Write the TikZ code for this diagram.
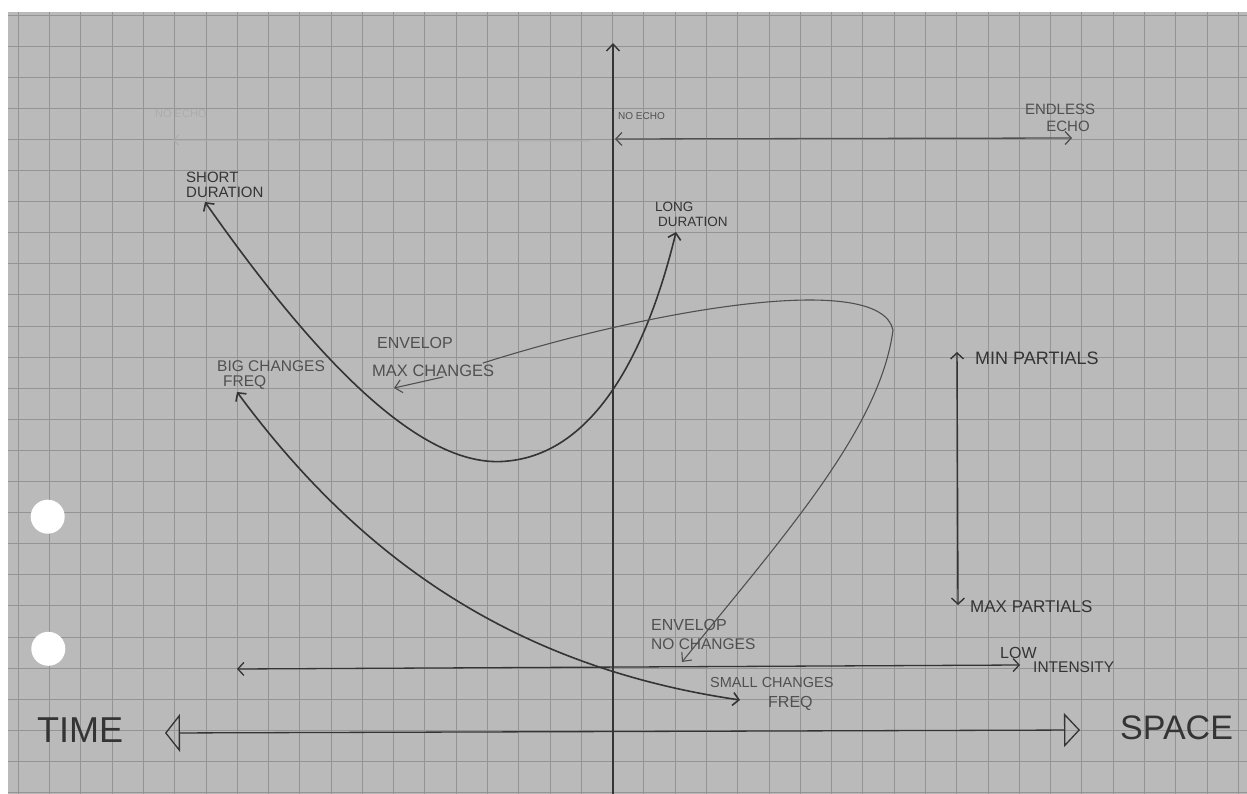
\documentclass[tikz,border=0pt]{standalone}
\usepackage{fontspec}
\setmainfont{Liberation Sans}
\usetikzlibrary{arrows.meta}
\definecolor{paper}{RGB}{186,186,186}
\definecolor{gridc}{RGB}{148,148,148}
\definecolor{pencil}{RGB}{52,52,52}
\definecolor{softpen}{RGB}{80,80,80}
\definecolor{faint}{RGB}{172,172,172}
\begin{document}
\begin{tikzpicture}[x=1pt,y=-1pt,
  pen/.style={draw=pencil,line width=1.4pt,line cap=round},
  thinpen/.style={draw=softpen,line width=1.1pt,line cap=round},
  barbs/.style={{Straight Barb[length=6pt,width=13pt]}-{Straight Barb[length=6pt,width=13pt]}},
  barbend/.style={-{Straight Barb[length=7pt,width=13pt]}},
  tri/.style={{Triangle[open,length=15pt,width=38pt]}-{Triangle[open,length=16pt,width=34pt]}},
  lbl/.style={text=pencil,inner sep=0pt,anchor=west},
  soft/.style={text=softpen,inner sep=0pt,anchor=west}
]
\useasboundingbox (0,0) rectangle (1247,794);
\fill[white] (0,0) rectangle (1247,794);
\fill[paper] (8,12) rectangle (1247,794);
% squared paper
\foreach \i in {0,...,39} \draw[gridc,line width=0.9pt] ({18.3+31.28*\i},12) -- ({18.3+31.28*\i},794);
\foreach \j in {0,...,25} \draw[gridc,line width=0.9pt] (8,{15+31.1*\j}) -- (1247,{15+31.1*\j});
% punch holes
\fill[white] (47.7,516.7) circle (17pt);
\fill[white] (48.3,648.8) circle (17pt);

% faint erased label
\node[text=faint,inner sep=0pt,anchor=west,font=\fontsize{11}{13}\selectfont] (ghost) at (155,114) {NO ECHO};
\coordinate (gl) at (173,140);
\coordinate (gr) at (590,141);
\draw[draw=faint,line width=1pt,-{Straight Barb[length=5pt,width=10pt]}] (gr) -- (gl);

% vertical axis
\coordinate (vtop) at (613,43);
\coordinate (vbot) at (613,794);
\draw[pen,barbend] (vbot) -- (vtop);

% echo line
\coordinate (ne) at (615,139);
\coordinate (ee) at (1072,138);
\draw[thinpen,line width=1.3pt,barbs] (ne) -- (ee);
\node[soft,font=\fontsize{10}{12}\selectfont] (noecho) at (618,116) {NO ECHO};
\node[soft,font=\fontsize{15}{17}\selectfont,anchor=center] (endless) at (1060,109) {ENDLESS};
\node[soft,font=\fontsize{15}{17}\selectfont,anchor=center] (echo) at (1068,126) {ECHO};

% duration curve
\coordinate (sd) at (205,202);
\coordinate (dmin) at (508,461);
\coordinate (ld) at (676,232);
\draw[pen,line width=1.6pt,barbs] (sd) .. controls (330,380) and (430,470) .. (dmin) .. controls (600,452) and (650,340) .. (ld);
\node[lbl,font=\fontsize{15}{17}\selectfont] (short) at (186,177.5) {SHORT};
\node[lbl,font=\fontsize{15}{17}\selectfont] (sdur) at (186,192.5) {DURATION};
\node[lbl,font=\fontsize{13.5}{15}\selectfont] (long) at (655,207) {LONG};
\node[lbl,font=\fontsize{13.5}{15}\selectfont] (ldur) at (658,222) {DURATION};

% envelope loop
\coordinate (mxa) at (394,388);
\coordinate (mxb) at (443,377);
\coordinate (lp) at (483,363);
\coordinate (rt) at (893,330);
\coordinate (nca) at (682,662);
\draw[thinpen,barbend] (mxb) -- (mxa);
\draw[thinpen,barbend] (lp) .. controls (650,310) and (880,270) .. (rt) .. controls (880,430) and (780,540) .. (nca);
\node[soft,font=\fontsize{16}{18}\selectfont] (env1) at (377,343) {ENVELOP};
\node[soft,font=\fontsize{16.5}{18}\selectfont] (maxch) at (372,371) {MAX CHANGES};
\node[soft,font=\fontsize{16}{18}\selectfont] (env2) at (651,625) {ENVELOP};
\node[soft,font=\fontsize{15.5}{18}\selectfont] (noch) at (651,644) {NO CHANGES};

% frequency curve
\coordinate (bf) at (237,392);
\coordinate (sf) at (740,700);
\draw[pen,line width=1.6pt,barbs] (bf) .. controls (350,545) and (500,665) .. (sf);
\node[soft,font=\fontsize{15.5}{18}\selectfont] (big) at (217,366) {BIG CHANGES};
\node[soft,font=\fontsize{15.5}{18}\selectfont] (bfreq) at (223,383) {FREQ};
\node[soft,font=\fontsize{14.5}{17}\selectfont] (small) at (710,683) {SMALL CHANGES};
\node[soft,font=\fontsize{16}{18}\selectfont] (sfreq) at (768,703) {FREQ};

% partials
\coordinate (pmin) at (957,352);
\coordinate (pmax) at (958,605);
\draw[pen,barbs] (pmin) -- (pmax);
\node[lbl,font=\fontsize{18}{20}\selectfont] (minp) at (975,358) {MIN PARTIALS};
\node[lbl,font=\fontsize{17}{19}\selectfont] (maxp) at (970,607) {MAX PARTIALS};

% intensity
\coordinate (il) at (237,669);
\coordinate (ir) at (1020,665);
\draw[pen,line width=1.3pt,barbs] (il) -- (ir);
\node[lbl,font=\fontsize{16}{18}\selectfont] (low) at (1000,653) {LOW};
\node[lbl,font=\fontsize{15.5}{18}\selectfont] (inten) at (1033,667) {INTENSITY};

% time / space axis
\coordinate (tl) at (165,733);
\coordinate (tr) at (1080,730);
\draw[pen,line width=1.3pt,tri] (tl) -- (tr);
\node[lbl,font=\fontsize{36}{40}\selectfont] (time) at (37,730) {TIME};
\node[lbl,font=\fontsize{34}{40}\selectfont] (space) at (1120,728) {SPACE};
\end{tikzpicture}
\end{document}
